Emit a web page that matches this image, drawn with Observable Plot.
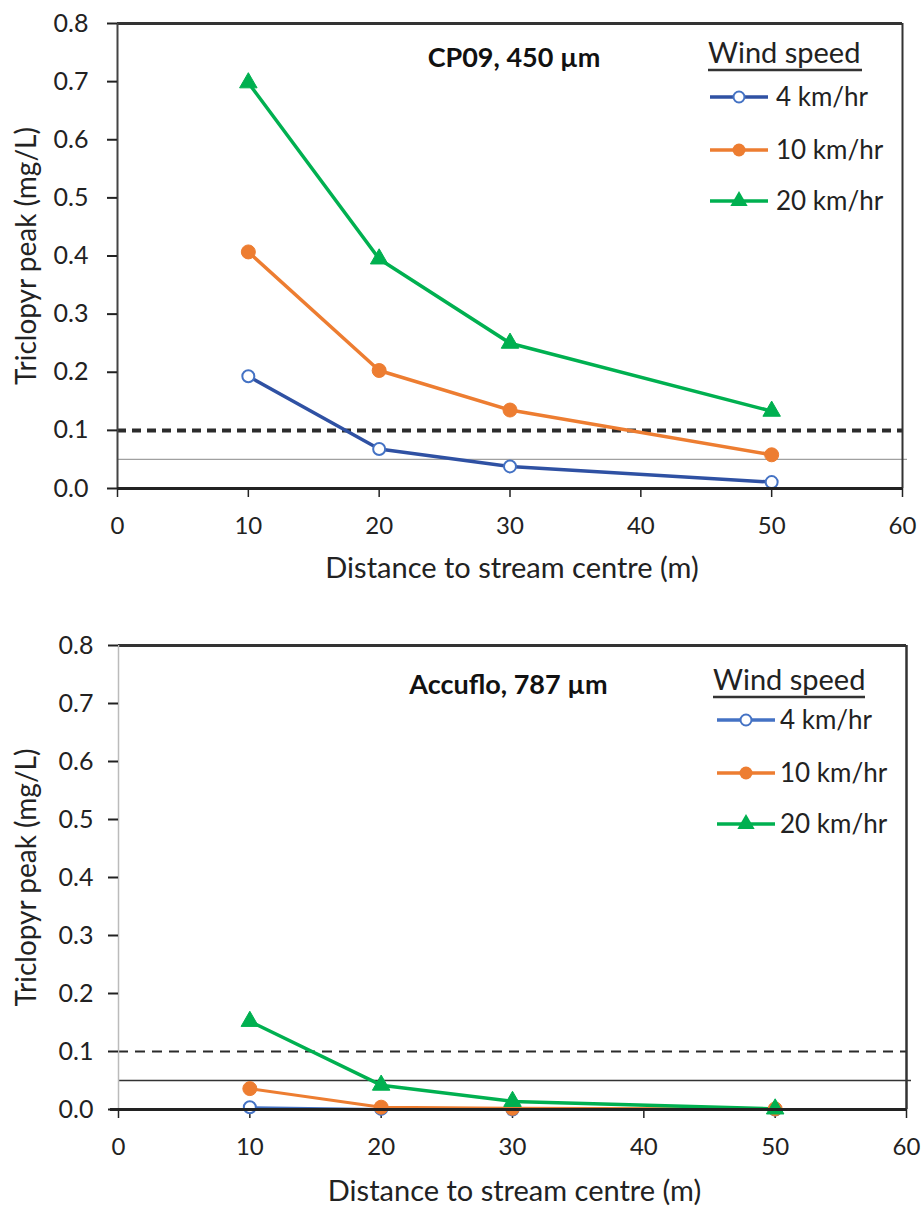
<!DOCTYPE html>
<html>
<head>
<meta charset="utf-8">
<script src="https://cdn.jsdelivr.net/npm/d3@7"></script>
<script src="https://cdn.jsdelivr.net/npm/@observablehq/plot@0.6"></script>
<style>
  body { margin: 0; background: #fff; }
  svg { display: block; }
</style>
</head>
<body>
<div id="chart"></div>
<script>
// ---- data ----
const distances = [10, 20, 30, 50];
const seriesNames = ["4 km/hr", "10 km/hr", "20 km/hr"];

const cp09_4kmh  = [0.193, 0.068, 0.038, 0.011];
const cp09_10kmh = [0.407, 0.203, 0.135, 0.058];
const cp09_20kmh = [0.698, 0.395, 0.250, 0.133];

const accuflo_4kmh  = [0.004, 0.001, 0.000, 0.000];
const accuflo_10kmh = [0.036, 0.004, 0.002, 0.001];
const accuflo_20kmh = [0.152, 0.042, 0.014, 0.001];

const xTicks = [0, 10, 20, 30, 40, 50, 60];
const yTicks = [0, 0.1, 0.2, 0.3, 0.4, 0.5, 0.6, 0.7, 0.8];
const dashedGuide = [0.1];
const solidGuide = [0.05];

const panelTitles = ["CP09, 450 µm", "Accuflo, 787 µm"];
const legendTitle = "Wind speed";
const xLabel = "Distance to stream centre (m)";
const yLabel = "Triclopyr peak (mg/L)";

// ---- styles ----
const lineColors = {
  upper: ["#2F51A3", "#ED7D31", "#00B050"],
  lower: ["#4472C4", "#ED7D31", "#00B050"]
};
const markerColor = ["#4472C4", "#ED7D31", "#00B050"];
const FONT = "Lato, 'Open Sans', sans-serif";

function rowsFor(seriesValues) {
  const rows = [];
  seriesValues.forEach((vals, i) => {
    vals.forEach((v, j) => rows.push({series: seriesNames[i], idx: i, x: distances[j], y: v}));
  });
  return rows;
}

function seriesMarks(rows, colors, lineWidths) {
  const marks = [];
  seriesNames.forEach((s, i) => {
    const d = rows.filter(r => r.idx === i);
    marks.push(Plot.line(d, {x: "x", y: "y", stroke: colors[i], strokeWidth: lineWidths[i]}));
  });
  seriesNames.forEach((s, i) => {
    const d = rows.filter(r => r.idx === i);
    if (i === 0) marks.push(Plot.dot(d, {x: "x", y: "y", r: 6, fill: "white", stroke: markerColor[0], strokeWidth: 2}));
    if (i === 1) marks.push(Plot.dot(d, {x: "x", y: "y", r: 7, fill: markerColor[1], stroke: markerColor[1], strokeWidth: 1}));
    if (i === 2) marks.push(Plot.dot(d, {x: "x", y: "y", r: 6.5, symbol: "triangle", fill: markerColor[2], stroke: markerColor[2], strokeWidth: 1}));
  });
  return marks;
}

function addLegend(svg, lg) {
  const g = d3.select(svg).append("g").attr("font-family", FONT).attr("text-anchor", "start");
  g.append("text").attr("x", lg.x).attr("y", lg.titleY).attr("dy", "0.35em")
    .attr("font-size", 29).attr("fill", "#222").text(legendTitle);
  g.append("line").attr("x1", lg.x).attr("x2", lg.x + lg.ulW).attr("y1", lg.ulY).attr("y2", lg.ulY)
    .attr("stroke", "#333").attr("stroke-width", 2.5);
  seriesNames.forEach((name, i) => {
    const y = lg.itemY[i];
    g.append("line").attr("x1", lg.lx).attr("x2", lg.lx + 58).attr("y1", y).attr("y2", y)
      .attr("stroke", lg.colors[i]).attr("stroke-width", 3.5);
    const cx = lg.lx + 29;
    if (i === 0) g.append("circle").attr("cx", cx).attr("cy", y).attr("r", 5.5).attr("fill", "white").attr("stroke", markerColor[0]).attr("stroke-width", 2);
    if (i === 1) g.append("circle").attr("cx", cx).attr("cy", y).attr("r", 6.5).attr("fill", markerColor[1]);
    if (i === 2) g.append("path").attr("transform", `translate(${cx},${y})`).attr("d", d3.symbol(d3.symbolTriangle, 130)()).attr("fill", markerColor[2]);
    g.append("text").attr("x", lg.tx).attr("y", y).attr("dy", "0.35em").attr("font-size", 26).attr("fill", "#222").text(name);
  });
}

function panel(cfg) {
  const rows = rowsFor(cfg.values);
  const svg = Plot.plot({
    width: 923,
    height: cfg.height,
    marginTop: cfg.marginTop,
    marginBottom: cfg.marginBottom,
    marginLeft: cfg.marginLeft,
    marginRight: cfg.marginRight,
    style: {fontFamily: FONT, fontSize: "24px", background: "white", color: "#222", overflow: "visible"},
    x: {domain: [0, 60]},
    y: {domain: [0, 0.8]},
    marks: [
      Plot.ruleY(solidGuide, {stroke: cfg.solidColor, strokeWidth: cfg.solidWidth, insetRight: -5}),
      Plot.ruleY(dashedGuide, {stroke: "#2b2b2b", strokeWidth: cfg.dashWidth, strokeDasharray: cfg.dash}),
      Plot.ruleY([0.8], {stroke: "#333", strokeWidth: 3}),
      Plot.ruleX([60], {stroke: "#333", strokeWidth: cfg.rightWidth}),
      Plot.ruleX([0], {stroke: cfg.leftColor, strokeWidth: cfg.leftWidth}),
      Plot.axisX({ticks: xTicks, tickSize: 9, tickPadding: 19, fontSize: 24, label: null, stroke: "#222", strokeWidth: 1.5}),
      Plot.axisY({ticks: yTicks, tickFormat: d3.format(".1f"), tickSize: 10, tickPadding: cfg.yPad, fontSize: 25, label: null, stroke: "#222", strokeWidth: 2}),
      Plot.text([xLabel], {text: d => d, frameAnchor: "bottom", lineAnchor: "middle", textAnchor: "middle", dy: cfg.xLabelDy, dx: 2, fontSize: 29, fill: "#222"}),
      Plot.text([yLabel], {text: d => d, frameAnchor: "left", lineAnchor: "middle", textAnchor: "middle", dx: cfg.yLabelDx, rotate: -90, fontSize: 28, fill: "#222"}),
      Plot.text([cfg.title], {text: d => d, frameAnchor: "top", lineAnchor: "middle", textAnchor: "middle", dx: cfg.titleDx, dy: cfg.titleDy, fontSize: 27, fontWeight: "bold", fill: "#111"}),
      ...seriesMarks(rows, cfg.lineColors, cfg.lineWidths),
      Plot.ruleY([0], {stroke: "#222", strokeWidth: 3, insetLeft: cfg.zeroInsetLeft})
    ]
  });
  addLegend(svg, cfg.legend);
  return svg;
}

const upperPanel = panel({
  values: [cp09_4kmh, cp09_10kmh, cp09_20kmh],
  title: panelTitles[0],
  height: 610, marginTop: 23, marginBottom: 122, marginLeft: 117, marginRight: 21,
  solidColor: "#a0a0a0", solidWidth: 1.3,
  dash: "9,6", dashWidth: 4,
  rightWidth: 2, leftColor: "#444", leftWidth: 2,
  yPad: 19, xLabelDy: 80, yLabelDx: -90,
  titleDx: 4, titleDy: 35,
  lineColors: lineColors.upper, lineWidths: [3.5, 3.5, 3.5],
  zeroInsetLeft: 0,
  legend: {x: 708, titleY: 53, ulY: 70, ulW: 154, itemY: [97, 150, 201], lx: 710, tx: 776, colors: lineColors.upper}
});

const lowerPanel = panel({
  values: [accuflo_4kmh, accuflo_10kmh, accuflo_20kmh],
  title: panelTitles[1],
  height: 597, marginTop: 35, marginBottom: 98, marginLeft: 118, marginRight: 17,
  solidColor: "#333", solidWidth: 1.6,
  dash: "10,7", dashWidth: 2,
  rightWidth: 2.5, leftColor: "#bbb", leftWidth: 1.5,
  yPad: 15, xLabelDy: 82, yLabelDx: -91,
  titleDx: -4, titleDy: 40,
  lineColors: lineColors.lower, lineWidths: [2, 3, 3.5],
  zeroInsetLeft: -8,
  legend: {x: 713, titleY: 70, ulY: 87, ulW: 152, itemY: [110, 163, 214], lx: 717, tx: 780, colors: lineColors.lower}
});

const chart = document.getElementById("chart");
chart.appendChild(upperPanel);
chart.appendChild(lowerPanel);
</script>
</body>
</html>
